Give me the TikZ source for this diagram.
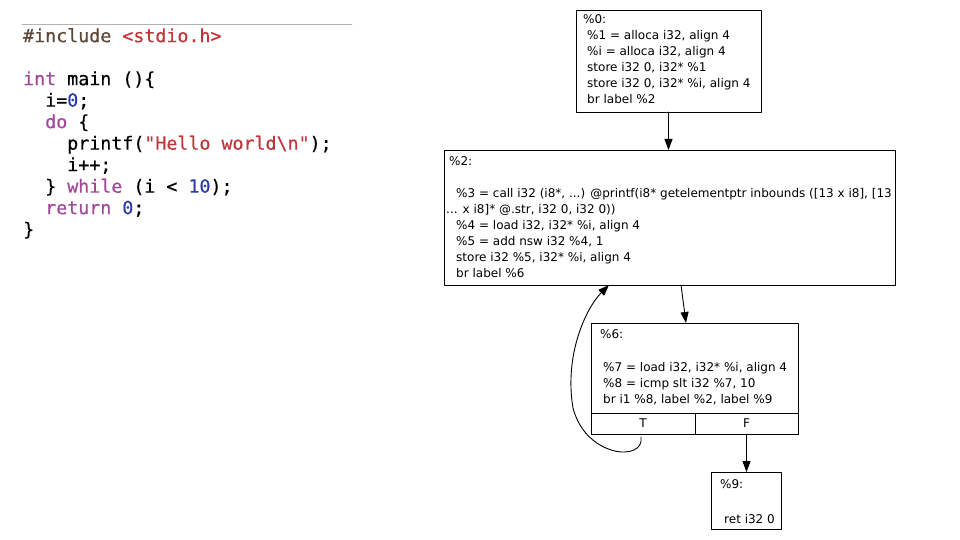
\documentclass[tikz,border=0pt]{standalone}
\usepackage{fontspec}
\setmonofont[FakeBold=0.5]{DejaVu Sans Mono}
\newfontfamily\irfont{DejaVu Sans}
\usepackage{tikz}
\usetikzlibrary{arrows.meta,calc}

\definecolor{ppcol}{HTML}{5C4636}
\definecolor{strcol}{HTML}{C0343A}
\definecolor{kwcol}{HTML}{A2489A}
\definecolor{numcol}{HTML}{2C3AAE}

\tikzset{
  blk/.style={draw, line width=0.9pt, inner sep=0pt, outer sep=0pt, anchor=north west},
  hdr/.style={inner sep=0pt, anchor=north west, font=\irfont\fontsize{12}{16}\selectfont},
  ir/.style={inner sep=0pt, anchor=north west, align=left, font=\irfont\fontsize{12}{16}\selectfont},
  edge/.style={->, line width=0.9pt}
}

\begin{document}
\begin{tikzpicture}[line cap=round,line join=round,>={Triangle[length=11pt,width=8pt]},x=1pt,y=-1pt]
		\useasboundingbox (0,0) rectangle (960,540);
		% source C
		\draw[gray!60, line width=0.8pt] (22,24)--(352,24);
		\node[inner sep=0pt, anchor=north west, align=left,
		  font=\ttfamily\fontsize{18.3}{21.5}\selectfont] (src) at (23,28)
		  {\textcolor{ppcol}{\#include} \textcolor{strcol}{<stdio.h>}\\
		   \\
		   \textcolor{kwcol}{int} main ()\{\\
		   \phantom{xx}i=\textcolor{numcol}{0};\\
		   \phantom{xx}\textcolor{kwcol}{do} \{\\
		   \phantom{xxxx}printf(\textcolor{strcol}{"Hello world\textbackslash n"});\\
		   \phantom{xxxx}i++;\\
		   \phantom{xx}\} \textcolor{kwcol}{while} (i < \textcolor{numcol}{10});\\
		   \phantom{xx}\textcolor{kwcol}{return} \textcolor{numcol}{0};\\
		   \}};
		% bloc %0
		\node[blk, minimum width=185, minimum height=102] (b0) at (576,10) {};
		\node[hdr] (h0) at ($(b0.north west)+(7,4)$) {\%0:};
		\node[ir] (t0) at ($(b0.north west)+(11,20)$)
		  {\%1 = alloca i32, align 4\\
		   \%i = alloca i32, align 4\\
		   store i32 0, i32* \%1\\
		   store i32 0, i32* \%i, align 4\\
		   br label \%2};
		% bloc %2
		\node[blk, minimum width=451, minimum height=135] (b2) at (444,150) {};
		\node[hdr] (h2) at ($(b2.north west)+(5,6)$) {\%2:};
		\node[ir] (t2) at ($(b2.north west)+(2,38)$)
		  {\hspace*{10pt}\%3 = call i32 (i8*, ...) @printf(i8* getelementptr inbounds ([13 x i8], [13\\
		   ... x i8]* @.str, i32 0, i32 0))\\
		   \hspace*{10pt}\%4 = load i32, i32* \%i, align 4\\
		   \hspace*{10pt}\%5 = add nsw i32 \%4, 1\\
		   \hspace*{10pt}store i32 \%5, i32* \%i, align 4\\
		   \hspace*{10pt}br label \%6};
		% bloc %6
		\node[blk, minimum width=207, minimum height=90] (b6) at (591,323) {};
		\node[hdr] (h6) at ($(b6.north west)+(9,6)$) {\%6:};
		\node[ir] (t6) at ($(b6.north west)+(12,39)$)
		  {\%7 = load i32, i32* \%i, align 4\\
		   \%8 = icmp slt i32 \%7, 10\\
		   br i1 \%8, label \%2, label \%9};
		\node[blk, minimum width=104, minimum height=21] (pT) at (b6.south west) {};
		\node[blk, minimum width=103, minimum height=21] (pF) at (pT.north east) {};
		\node[font=\irfont\fontsize{12}{16}\selectfont, inner sep=0pt] (lT) at (pT.center) {T};
		\node[font=\irfont\fontsize{12}{16}\selectfont, inner sep=0pt] (lF) at (pF.center) {F};
		% bloc %9
		\node[blk, minimum width=70, minimum height=57] (b9) at (711,472) {};
		\node[hdr] (h9) at ($(b9.north west)+(9,7)$) {\%9:};
		\node[ir] (t9) at ($(b9.north west)+(13,42)$) {ret i32 0};
		% aretes
		\draw[edge] (b0.south) -- (b0.south |- b2.north);
		\draw[edge] ($(b2.south)+(11.5,0)$) -- ($(b6.north)+(-8.5,0)$);
		\draw[edge] (pF.south) -- (pF.south |- b9.north);
		\draw[edge] ($(pT.south)+(-2,3)$) .. controls ($(pT.south)+(2,28)$) and (586,458) .. (573,408)
		  .. controls (564,355) and (586,308) .. ($(b2.south west)+(165,0)$);
\end{tikzpicture}
\end{document}
